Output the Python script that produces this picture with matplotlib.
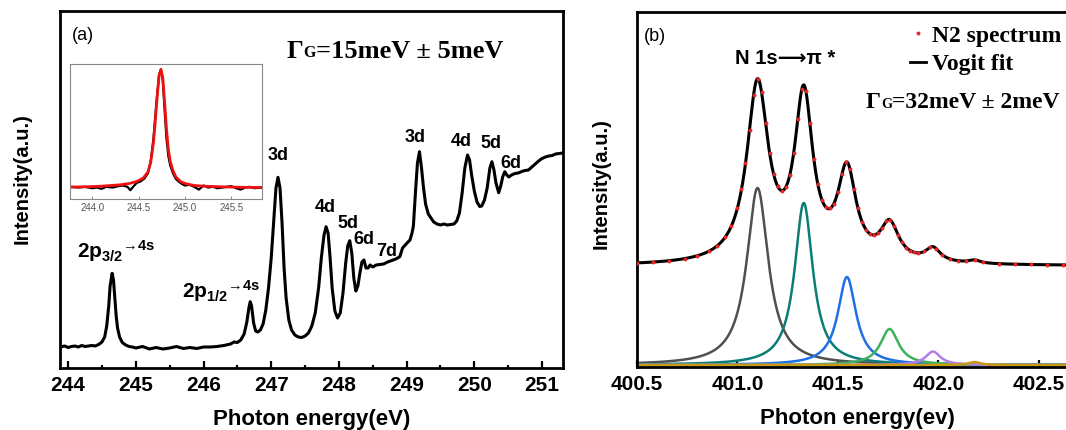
import numpy as np
import matplotlib
matplotlib.use("Agg")
import matplotlib.pyplot as plt
from matplotlib.lines import Line2D
from matplotlib.ticker import MultipleLocator, FormatStrFormatter

plt.rcParams["font.family"] = ["Liberation Sans", "DejaVu Sans"]
plt.rcParams["font.weight"] = "bold"
plt.rcParams["mathtext.fontset"] = "custom"
plt.rcParams["mathtext.rm"] = "Liberation Sans:bold"
plt.rcParams["mathtext.it"] = "Liberation Sans:bold"
plt.rcParams["mathtext.bf"] = "Liberation Sans:bold"

# ---- panel (a): Ar 2p photoabsorption spectrum ----
ar_energy = [243.88, 243.95, 244.00, 244.05, 244.10, 244.15, 244.20, 244.25, 244.30, 244.35,
             244.40, 244.45, 244.50, 244.54, 244.57, 244.60, 244.62, 244.65, 244.67, 244.69,
             244.71, 244.73, 244.76, 244.80, 244.85, 244.90, 244.95, 245.00, 245.10, 245.20,
             245.30, 245.40, 245.50, 245.60, 245.70, 245.80, 245.90, 246.00, 246.10, 246.20,
             246.30, 246.40, 246.45, 246.50, 246.55, 246.60, 246.64, 246.67, 246.69, 246.71,
             246.74, 246.77, 246.80, 246.84, 246.88, 246.92, 246.96, 247.00, 247.04, 247.07,
             247.10, 247.13, 247.16, 247.19, 247.22, 247.26, 247.30, 247.35, 247.40, 247.45,
             247.50, 247.55, 247.60, 247.65, 247.70, 247.74, 247.78, 247.81, 247.84, 247.87,
             247.90, 247.94, 247.98, 248.02, 248.06, 248.10, 248.13, 248.16, 248.19, 248.22,
             248.25, 248.28, 248.31, 248.34, 248.37, 248.40, 248.43, 248.46, 248.50, 248.55,
             248.60, 248.66, 248.72, 248.78, 248.84, 248.90, 248.94, 248.98, 249.02, 249.05,
             249.08, 249.10, 249.13, 249.16, 249.19, 249.22, 249.25, 249.28, 249.32, 249.36,
             249.40, 249.45, 249.50, 249.55, 249.60, 249.65, 249.70, 249.74, 249.78, 249.82,
             249.86, 249.90, 249.93, 249.96, 250.00, 250.04, 250.08, 250.11, 250.15, 250.19,
             250.23, 250.26, 250.29, 250.32, 250.36, 250.39, 250.42, 250.45, 250.48, 250.51,
             250.55, 250.60, 250.65, 250.70, 250.75, 250.80, 250.85, 250.90, 250.95, 251.00,
             251.05, 251.10, 251.15, 251.20, 251.25, 251.31]
ar_intensity = [0.210, 0.220, 0.205, 0.215, 0.220, 0.210, 0.225, 0.215, 0.220, 0.225,
                0.220, 0.235, 0.260, 0.310, 0.420, 0.620, 0.820, 0.947, 0.880, 0.700,
                0.520, 0.400, 0.310, 0.255, 0.230, 0.215, 0.210, 0.200, 0.215, 0.190,
                0.205, 0.190, 0.200, 0.215, 0.195, 0.205, 0.195, 0.210, 0.210, 0.215,
                0.225, 0.240, 0.260, 0.255, 0.280, 0.340, 0.460, 0.600, 0.663, 0.620,
                0.450, 0.370, 0.360, 0.380, 0.440, 0.580, 0.800, 1.100, 1.500, 1.800,
                1.907, 1.800, 1.450, 1.000, 0.700, 0.480, 0.380, 0.330, 0.310, 0.305,
                0.320, 0.350, 0.420, 0.550, 0.800, 1.100, 1.330, 1.413, 1.350, 1.100,
                0.800, 0.570, 0.500, 0.550, 0.750, 1.050, 1.220, 1.273, 1.150, 0.900,
                0.770, 0.820, 0.950, 1.060, 1.080, 1.000, 1.000, 1.030, 1.010, 1.030,
                1.035, 1.040, 1.060, 1.075, 1.090, 1.113, 1.200, 1.230, 1.260, 1.280,
                1.350, 1.420, 1.750, 2.050, 2.163, 2.000, 1.800, 1.640, 1.540, 1.500,
                1.460, 1.440, 1.430, 1.440, 1.430, 1.435, 1.440, 1.470, 1.550, 1.750,
                2.000, 2.130, 2.080, 1.930, 1.770, 1.660, 1.615, 1.620, 1.680, 1.800,
                2.000, 2.063, 1.980, 1.850, 1.753, 1.820, 1.913, 1.963, 1.930, 1.910,
                1.930, 1.945, 1.950, 1.965, 1.975, 1.980, 2.010, 2.040, 2.070, 2.095,
                2.110, 2.120, 2.125, 2.140, 2.145, 2.150]

peak_labels = ["3d", "4d", "5d", "6d", "7d", "3d", "4d", "5d", "6d"]
peak_label_x = [247.10, 247.80, 248.14, 248.37, 248.70, 249.13, 249.81, 250.25, 250.54]
peak_label_y = [2.12, 1.60, 1.44, 1.29, 1.16, 2.30, 2.26, 2.24, 2.05]

# inset: 2p3/2 -> 4s line, measured (black) and fit (red)
inset_energy = [243.78, 243.85, 243.92, 244.00, 244.05, 244.10, 244.15, 244.22, 244.28, 244.33,
                244.38, 244.41, 244.44, 244.48, 244.52, 244.56, 244.60, 244.63, 244.66, 244.69,
                244.72, 244.74, 244.76, 244.78, 244.80, 244.82, 244.84, 244.87, 244.90, 244.93,
                244.97, 245.00, 245.05, 245.10, 245.15, 245.20, 245.25, 245.30, 245.35, 245.40,
                245.45, 245.50, 245.55, 245.60, 245.65, 245.70, 245.75, 245.82]
inset_signal = [0.090, 0.085, 0.090, 0.080, 0.085, 0.075, 0.090, 0.085, 0.095, 0.100,
                0.090, 0.065, 0.090, 0.120, 0.130, 0.150, 0.190, 0.280, 0.450, 0.700,
                0.920, 0.960, 0.880, 0.660, 0.450, 0.320, 0.250, 0.190, 0.150, 0.130,
                0.110, 0.100, 0.105, 0.090, 0.070, 0.100, 0.085, 0.090, 0.080, 0.085,
                0.090, 0.095, 0.080, 0.070, 0.085, 0.090, 0.080, 0.085]
inset_fit_energy = [243.76, 243.90, 244.00, 244.10, 244.20, 244.30, 244.40, 244.48, 244.55, 244.60,
                    244.63, 244.66, 244.68, 244.70, 244.72, 244.74, 244.76, 244.78, 244.80, 244.82,
                    244.84, 244.87, 244.90, 244.95, 245.00, 245.10, 245.20, 245.40, 245.60, 245.83]
inset_fit = [0.088, 0.090, 0.092, 0.095, 0.100, 0.105, 0.115, 0.130, 0.155, 0.200,
             0.270, 0.420, 0.580, 0.760, 0.910, 0.960, 0.900, 0.720, 0.520, 0.370,
             0.280, 0.210, 0.165, 0.130, 0.115, 0.100, 0.095, 0.090, 0.087, 0.085]

# ---- panel (b): N 1s -> pi* of N2, measured points ----
n2_energy = [400.50, 400.58, 400.66, 400.74, 400.80, 400.86, 400.90, 400.94, 400.97, 401.00,
             401.02, 401.04, 401.06, 401.08, 401.10, 401.12, 401.14, 401.16, 401.18, 401.20,
             401.22, 401.24, 401.26, 401.28, 401.30, 401.32, 401.34, 401.36, 401.38, 401.40,
             401.42, 401.44, 401.46, 401.48, 401.50, 401.52, 401.54, 401.56, 401.58, 401.60,
             401.62, 401.64, 401.66, 401.68, 401.70, 401.72, 401.74, 401.76, 401.78, 401.80,
             401.82, 401.84, 401.86, 401.88, 401.90, 401.93, 401.96, 401.99, 402.02, 402.06,
             402.10, 402.14, 402.18, 402.22, 402.30, 402.38, 402.46, 402.54, 402.62]
n2_intensity = [1.021, 1.029, 1.043, 1.065, 1.092, 1.140, 1.193, 1.281, 1.391, 1.570,
                1.755, 2.015, 2.352, 2.696, 2.863, 2.728, 2.418, 2.121, 1.909, 1.787,
                1.743, 1.776, 1.895, 2.122, 2.455, 2.755, 2.744, 2.421, 2.063, 1.806,
                1.652, 1.576, 1.565, 1.614, 1.734, 1.905, 2.028, 1.959, 1.756, 1.565,
                1.433, 1.353, 1.312, 1.301, 1.321, 1.372, 1.435, 1.452, 1.389, 1.298,
                1.225, 1.175, 1.145, 1.127, 1.121, 1.136, 1.177, 1.162, 1.102, 1.060,
                1.043, 1.041, 1.052, 1.031, 1.015, 1.010, 1.007, 1.005, 1.003]

# Voigt fit components: centre (eV), height (a.u.), FWHM (eV)
comp_center = [401.100, 401.330, 401.545, 401.757, 401.973, 402.180]
comp_height = [1.77, 1.62, 0.88, 0.36, 0.135, 0.03]
comp_fwhm = [0.13, 0.11, 0.11, 0.11, 0.09, 0.07]
comp_color = ["#505050", "#0b7d76", "#1f6fe5", "#3cb25c", "#b47de6", "#c99a12"]
fit_offset = 0.99
voigt_eta = 1.0   # Lorentzian fraction of the pseudo-Voigt


def pseudo_voigt(x, c, h, w, eta):
    lor = 1.0 / (1.0 + ((x - c) / (w / 2)) ** 2)
    gau = np.exp(-4 * np.log(2) * ((x - c) / w) ** 2)
    return h * (eta * lor + (1 - eta) * gau)


fig = plt.figure(figsize=(10.66, 4.30), dpi=100)
ax1 = fig.add_axes([60 / 1066, 62 / 430, 503 / 1066, 357 / 430])
ax2 = fig.add_axes([637 / 1066, 63 / 430, 440 / 1066, 355 / 430])

for ax in (ax1, ax2):
    for s in ax.spines.values():
        s.set_linewidth(2.0)
    ax.set_yticks([])
    ax.tick_params(axis="x", which="both", direction="in", width=1.6, labelsize=15, pad=6)
    ax.tick_params(axis="x", which="major", length=5)
    ax.tick_params(axis="x", which="minor", length=2.5)

# panel (a)
ax1.plot(ar_energy, ar_intensity, color="black", lw=2.2)
ax1.set_xlim(243.88, 251.31)
ax1.set_ylim(0, 3.57)
ax1.xaxis.set_major_locator(MultipleLocator(1))
ax1.xaxis.set_minor_locator(MultipleLocator(0.5))
ax1.set_xlabel("Photon energy(eV)", fontsize=16, fontweight="bold", labelpad=10)
ax1.set_ylabel("Intensity(a.u.)", fontsize=14.5, fontweight="bold")
ax1.yaxis.set_label_coords(-0.056, 0.532)
ax1.text(0.046, 0.93, "(a)", transform=ax1.transAxes, ha="center", va="center",
         fontsize=13, fontweight="normal")

for lab, x, y in zip(peak_labels, peak_label_x, peak_label_y):
    ax1.text(x, y, lab, ha="center", va="center", fontsize=13)
ax1.text(244.13, 1.10, r"2p$_{3/2}$${}^{→4s}$", ha="left", va="baseline", fontsize=15)
ax1.text(245.68, 0.70, r"2p$_{1/2}$${}^{→4s}$", ha="left", va="baseline", fontsize=15)


def gamma_label(ax, x, y, rest, size):
    t1 = ax.text(x, y, "Γ", transform=ax.transAxes, fontfamily="Liberation Serif",
                 fontsize=size, va="baseline", ha="left")
    t2 = ax.annotate("G", xy=(1, 0), xycoords=t1, xytext=(0, 1.5), textcoords="offset points",
                     fontfamily="Liberation Serif", fontsize=size * 0.6, va="bottom", ha="left")
    ax.annotate(rest, xy=(1, 0), xycoords=(t2, t1), fontfamily="Liberation Serif",
                fontsize=size, va="bottom", ha="left")


gamma_label(ax1, 0.451, 0.868, "=15meV ± 5meV", 19)

# inset
axi = fig.add_axes([70 / 1066, 231 / 430, 192 / 1066, 135 / 430])
axi.plot(inset_energy, inset_signal, color="black", lw=1.6)
axi.plot(inset_fit_energy, inset_fit, color="#ee1111", lw=2.0)
axi.set_xlim(243.76, 245.83)
axi.set_ylim(0, 1.0)
axi.set_yticks([])
axi.set_xticks([244.0, 244.5, 245.0, 245.5])
axi.xaxis.set_major_formatter(FormatStrFormatter("%.1f"))
axi.tick_params(axis="x", direction="in", length=2, width=0.6, labelsize=7,
                labelcolor="#555555", color="#777777", pad=3)
for lab in axi.get_xticklabels():
    lab.set_fontweight("normal")
for s in axi.spines.values():
    s.set_linewidth(0.8)
    s.set_color("#888888")

# panel (b)
xs = np.linspace(400.45, 402.75, 900)
total = np.full_like(xs, fit_offset)
for c, h, w, col in zip(comp_center, comp_height, comp_fwhm, comp_color):
    comp = pseudo_voigt(xs, c, h, w, voigt_eta)
    total += comp
    ax2.plot(xs, comp, color=col, lw=1.8)
ax2.plot(xs, total, color="black", lw=2.2, zorder=3)
ax2.plot(n2_energy, n2_intensity, ls="none", marker="o", ms=2.8, color="#ee2222",
         mec="none", zorder=4)
ax2.set_xlim(400.5, 402.69)
ax2.set_ylim(-0.02, 3.53)
ax2.xaxis.set_major_locator(MultipleLocator(0.5))
ax2.xaxis.set_minor_locator(MultipleLocator(0.25))
ax2.xaxis.set_major_formatter(FormatStrFormatter("%.1f"))
ax2.set_xlabel("Photon energy(ev)", fontsize=16, fontweight="bold", labelpad=10)
ax2.set_ylabel("Intensity(a.u.)", fontsize=14.5, fontweight="bold")
ax2.yaxis.set_label_coords(-0.061, 0.518)
ax2.text(0.041, 0.932, "(b)", transform=ax2.transAxes, ha="center", va="center",
         fontsize=13, fontweight="normal")
ax2.text(0.336, 0.868, "N 1s⟶π *", transform=ax2.transAxes, ha="center", va="center",
         fontsize=14.5)
gamma_label(ax2, 0.520, 0.730, "=32meV ± 2meV", 17)

handles = [Line2D([], [], ls="none", marker="o", ms=2.8, color="#ee2222", mec="none"),
           Line2D([], [], color="black", lw=2.0)]
ax2.legend(handles, ["N2 spectrum", "Vogit fit"], loc="upper left",
           bbox_to_anchor=(0.620, 0.963), frameon=False, borderpad=0, borderaxespad=0,
           handlelength=0.7, handletextpad=0.25, labelspacing=0.3,
           prop={"family": "Liberation Serif", "weight": "bold", "size": 17})

fig.savefig("out.png", dpi=100)
